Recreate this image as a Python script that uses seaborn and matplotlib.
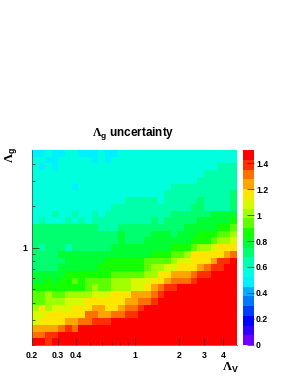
import numpy as np
import pandas as pd
import matplotlib
matplotlib.use("Agg")
import matplotlib.pyplot as plt
from matplotlib.colors import ListedColormap
import seaborn as sns

# contour level of every bin (0-19, each 0.075 wide), top row first
levels = [
    [6,6,7,6,6,7,7,6,6,6,7,6,6,7,7,7,7,7,7,7,7,7,7,7,7,7,7,7,7,7,7],
    [7,7,6,6,7,7,7,7,7,6,7,6,7,7,7,7,7,7,7,7,7,7,7,7,7,7,7,7,7,7,7],
    [7,6,7,6,7,7,7,7,7,7,7,7,7,7,7,7,7,7,7,7,7,7,7,7,7,7,7,7,8,8,8],
    [7,7,7,7,7,7,7,7,7,7,7,7,7,7,7,7,7,7,7,7,7,7,7,7,7,7,8,8,8,8,8],
    [7,7,7,7,7,7,7,7,7,7,7,7,7,7,7,7,7,7,7,7,7,7,7,7,7,8,8,8,8,8,8],
    [7,7,7,7,7,7,6,7,7,7,7,7,7,7,7,7,7,7,7,7,7,8,8,8,8,8,8,8,8,8,8],
    [7,7,7,7,7,7,7,7,7,7,7,7,7,7,7,7,7,7,7,7,8,8,8,8,8,8,8,8,8,8,9],
    [7,7,7,7,7,7,7,7,7,7,7,7,7,7,8,8,8,8,8,7,8,8,8,8,8,9,8,8,8,8,9],
    [7,7,7,7,7,7,7,7,7,7,7,7,8,8,8,8,8,8,8,8,8,8,8,8,9,9,8,8,8,8,9],
    [7,7,7,8,7,7,8,7,7,8,7,8,8,8,8,8,8,8,8,8,8,9,9,9,9,9,9,10,10,10,10],
    [7,8,7,7,7,8,7,8,7,8,8,8,8,8,8,8,8,8,9,8,9,9,9,9,9,10,10,10,10,10,11],
    [9,9,9,9,9,9,9,9,9,9,8,8,8,9,9,9,9,9,9,9,9,9,9,10,10,10,10,10,11,11,12],
    [9,9,9,9,9,9,9,9,9,9,9,9,9,10,9,9,9,9,10,10,10,9,10,10,10,11,11,11,12,12,13],
    [9,9,9,9,9,9,9,9,9,9,9,9,9,10,9,9,9,10,10,10,10,10,10,10,11,11,11,12,13,13,14],
    [9,8,9,9,9,8,9,9,9,9,9,9,10,10,10,10,10,10,10,10,10,11,11,11,12,13,13,14,15,15,15],
    [9,9,9,9,10,10,10,10,10,10,10,10,10,10,10,10,10,10,11,11,11,12,12,13,15,15,15,15,15,16,17],
    [9,9,9,9,9,10,10,10,10,10,10,11,11,11,11,11,11,12,12,12,12,13,14,14,15,15,15,16,18,18,19],
    [9,9,9,9,10,10,10,10,10,10,11,11,11,11,11,11,11,12,13,13,14,14,15,15,15,16,17,18,18,19,19],
    [10,10,10,10,10,11,11,11,11,11,11,11,12,12,12,12,12,13,13,15,15,16,16,16,17,18,18,19,19,19,19],
    [10,10,11,10,11,11,12,11,12,12,12,12,13,13,13,14,14,14,15,15,16,17,17,17,18,19,19,19,19,19,19],
    [11,11,11,11,11,11,11,11,12,13,12,12,13,13,13,14,14,15,16,17,18,18,19,19,19,19,19,19,19,19,19],
    [12,12,13,12,12,13,13,13,13,14,14,14,15,15,15,16,16,16,17,18,19,19,19,19,19,19,19,19,19,19,19],
    [12,12,13,13,13,14,14,14,15,15,15,15,15,15,16,16,17,17,18,19,19,19,19,19,19,19,19,19,19,19,19],
    [13,15,13,14,14,14,15,15,15,16,16,15,15,16,17,17,18,19,19,19,19,19,19,19,19,19,19,19,19,19,19],
    [14,14,15,15,15,15,15,15,17,17,16,16,17,17,18,18,19,19,19,19,19,19,19,19,19,19,19,19,19,19,19],
    [14,15,15,15,15,16,16,17,17,18,18,18,19,19,19,19,19,19,19,19,19,19,19,19,19,19,19,19,19,19,19],
    [16,16,16,16,17,18,17,19,19,19,19,19,19,19,19,19,19,19,19,19,19,19,19,19,19,19,19,19,19,19,19],
    [17,17,18,18,19,19,19,19,19,19,19,19,19,19,19,19,19,19,19,19,19,19,19,19,19,19,19,19,19,19,19],
    [19,19,18,19,19,19,19,19,19,19,19,19,19,19,19,19,19,19,19,19,19,19,19,19,19,19,19,19,19,19,19],
]
level_width = 0.075

palette = ["#6e00ff", "#3200ff", "#0000ff", "#003cff", "#0078ff", "#00afff",
           "#00f0ff", "#00ffdc", "#00ffaa", "#00ff6e", "#00ff32", "#14ff00",
           "#5aff00", "#a0ff00", "#d7fa00", "#ffe600", "#ffa500", "#ff7000",
           "#ff3000", "#ff0000"]

x_major = [0.2, 0.3, 0.4, 1, 2, 3, 4]
x_minor = [0.5, 0.6, 0.7, 0.8, 0.9]
y_major = [1]
y_minor = [0.2, 0.3, 0.4, 0.5, 0.6, 0.7, 0.8, 0.9, 2, 3, 4]
bar_ticks = [0, 0.2, 0.4, 0.6, 0.8, 1, 1.2, 1.4]
axis_min, axis_max = 0.2, 5

W, H = 291, 376
plt.rcParams["font.family"] = ["Liberation Sans"]
plt.rcParams["font.weight"] = "bold"
plt.rcParams["mathtext.fontset"] = "custom"
plt.rcParams["mathtext.rm"] = "Liberation Serif"
plt.rcParams["mathtext.sf"] = "Liberation Sans:bold"

df = (pd.DataFrame(levels, dtype=float) + 0.5) * level_width
nrows, ncols = df.shape


def to_frac(v):
    # position of a value on the log axes, 0 to 1
    return np.log(np.asarray(v, dtype=float) / axis_min) / np.log(axis_max / axis_min)


fig = plt.figure(figsize=(W / 100, H / 100), dpi=100)
ax = fig.add_axes([32 / W, (H - 345) / H, 205 / W, 195 / H])
cax = fig.add_axes([243 / W, (H - 345) / H, 11 / W, 195 / H])

sns.heatmap(df, ax=ax, cbar_ax=cax, cmap=ListedColormap(palette), vmin=0, vmax=1.5,
            xticklabels=False, yticklabels=False)

ax.set_xticks(ncols * to_frac(x_major))
ax.set_xticklabels([str(v) for v in x_major], fontsize=6.2, fontweight="bold")
ax.set_xticks(ncols * to_frac(x_minor), minor=True)
ax.set_yticks(nrows * (1 - to_frac(y_major)))
ax.set_yticklabels([str(v) for v in y_major], fontsize=6.2, fontweight="bold")
ax.set_yticks(nrows * (1 - to_frac(y_minor)), minor=True)
ax.tick_params(axis="x", which="major", direction="in", length=5, width=0.5, pad=4.5, color="#222222")
ax.tick_params(axis="x", which="minor", direction="in", length=2.5, width=0.5, color="#222222")
ax.tick_params(axis="y", which="major", direction="in", length=5, width=0.5, pad=3, color="#222222")
ax.tick_params(axis="y", which="minor", direction="in", length=2.5, width=0.5, color="#222222")
for side in ("left", "bottom"):
    ax.spines[side].set_visible(True)
    ax.spines[side].set_linewidth(0.5)
    ax.spines[side].set_color("#444444")

cb = ax.collections[0].colorbar
cb.set_ticks(bar_ticks)
cb.set_ticklabels([f"{v:g}" for v in bar_ticks], fontsize=6.2, fontweight="bold")
cb.outline.set_visible(False)
cax.tick_params(axis="y", direction="in", length=5, width=0.5, pad=1.5, color="#222222")

fig.text(133 / W, 1 - 133 / H, r"$\Lambda_{\mathsf{g}}$ uncertainty", fontsize=8.5,
         fontweight="bold", ha="center", va="center")
fig.text(11 / W, 1 - 155 / H, r"$\Lambda_{\mathsf{g}}$", fontsize=9, rotation=90,
         ha="center", va="center")
fig.text(230 / W, 1 - 368 / H, r"$\Lambda_{\mathsf{V}}$", fontsize=9,
         ha="center", va="center")

fig.savefig("out.png", dpi=100)
plt.close(fig)
